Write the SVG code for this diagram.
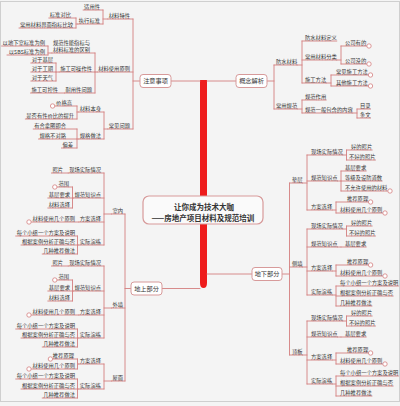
<svg xmlns="http://www.w3.org/2000/svg" width="400" height="406" viewBox="0 0 400 406">
<style>
.t{font-family:"Noto Sans CJK SC","Noto Sans",sans-serif;font-size:5.3px;fill:#333}
.e{text-anchor:end}
.u,.c{stroke:#d47f7f;stroke-width:.9;fill:none;stroke-linecap:round}
.m{fill:#fff;stroke:#d47f7f;stroke-width:.8}
.b{fill:#fff;stroke:#d79a9a;stroke-width:1}
.bt{font-size:6.2px;text-anchor:middle}
.ct{font-family:"Noto Sans CJK SC","Noto Sans",sans-serif;font-size:7.5px;font-weight:bold;fill:#333;text-anchor:middle}
</style>
<rect width="400" height="406" fill="#f4f4f4"/>
<rect x="0.5" y="1.5" width="399" height="400" fill="none" stroke="#cfcfcf"/>
<g id="connectors">
<path d="M200,80H207V283Q207,288 203.5,288Q200,288 200,283Z" fill="#ee1c1c"/>
<path class="c" d="M171,81H200M207,81H236M162,288.5H200M207,274H252"/>
<path class="c" d="M140,81H133M133,19V129M107.8,19H103M103,10V24M77.8,24H76M76,18V28M97.2,72H95M95,53V93M51.9,53H48M48,46V55M59.2,72H56M56,63V81M107.8,129H104M104,112V139M78.8,112H77M77,106V119M78.8,139H77M77,129V148"/>
<path class="c" d="M267,81H274M274,65V109M297.2,65H302M302,41V83M336.8,60H341M341,46V64M326.2,83H331M331,75V86M297.2,109H302M302,100V113M352.7,113H357M357,109V118"/>
<path class="c" d="M282,274H289.5M289.5,183V355M302.6,183H307M307,155V210M302.6,267H307M307,229V295M302.6,355H307M307,321V384"/>
<path class="c" d="M342.8,155H346.5M346.5,150V160M337.5,181H341M341,171V191M332.2,210H336M336,202V213"/>
<path class="c" d="M342.8,229H346.5M346.5,226V236M337.5,247H341M332.2,271H336M336,265V276M332.2,295H336M336,286V306"/>
<path class="c" d="M342.8,321H346.5M346.5,316V326M337.5,337H341M332.2,360H336M336,353V364M332.2,384H336M336,376V396"/>
<path class="c" d="M131,288.5H125M125,214V381M111.4,214H104M104,173V245M111.4,308H104M104,266V338M111.4,381H104M104,364V389"/>
<path class="c" d="M73.5,198H72.5M72.5,187V208M77.5,236V254M78.8,245H77.5M73.5,291H72.5M72.5,280V301M77.5,329V347M78.8,338H77.5M78.8,364H77.5M77.5,359V369M78.8,389H77.5M77.5,379V398"/>
</g>
<g id="center"><rect x="143" y="196" width="120" height="28" rx="6" fill="#fafafa" stroke="#d79a9a" stroke-width="1.2"/><text class="ct" x="204" y="209.5">让你成为技术大咖</text><text class="ct" x="203" y="220.5">——房地产项目材料及规范培训</text></g>

<g id="zhuyishixiang"><rect class="b" x="140" y="74.5" width="31" height="13" rx="3"/><text class="t bt" x="155.5" y="83.2">注意事项</text></g>
<g id="cailiaotexing"><text class="t e" x="130" y="17.5">材料特性</text><path class="u" d="M107.8,19H133"/></g>
<g id="shiyongxing"><text class="t e" x="100" y="8.5">适用性</text><path class="u" d="M83.1,10H103"/></g>
<g id="zhixingbiaozhun"><text class="t e" x="100" y="22.5">执行标准</text><path class="u" d="M77.8,24H103"/></g>
<g id="biaozhunduibi"><text class="t e" x="71" y="16.5">标准对比</text><path class="u" d="M48.8,18H76"/></g>
<g id="changyongcailiao"><text class="t e" x="73" y="26.5">常用材料界面指标比较</text><path class="u" d="M19,28H76"/></g>
<g id="cailiaoshiyong"><text class="t e" x="130" y="70.5">材料使用原则</text><path class="u" d="M97.2,72H133"/></g>
<g id="guifanxingneng"><text class="t e" x="90" y="44.5">规范性能指标与</text><text class="t e" x="90" y="51.5">材料标准的区别</text><path class="u" d="M51.9,53H95"/></g>
<g id="dixiashi"><text class="t e" x="45" y="44.5">以地下室标准为例</text><path class="u" d="M1.6,46H48"/></g>
<g id="sbs"><text class="t e" x="45" y="53.5">以SBS标准为例</text><path class="u" d="M7,55H48"/></g>
<g id="shigongkecaozuo"><text class="t e" x="92" y="70.5">施工可操作性</text><path class="u" d="M59.2,72H95"/></g>
<g id="jiceng1"><text class="t e" x="53" y="61.5">对于基层</text><path class="u" d="M30.8,63H56"/></g>
<g id="gongqi"><text class="t e" x="53" y="70.5">对于工期</text><path class="u" d="M30.8,72H56"/></g>
<g id="tianqi"><text class="t e" x="53" y="79.5">对于天气</text><path class="u" d="M30.8,81H56"/></g>
<g id="naiyong"><text class="t e" x="92" y="91.5">耐用性问题</text><path class="u" d="M64.5,93H95"/></g>
<g id="kekong"><text class="t e" x="58" y="91.5">施工可控性</text><path class="u" d="M30.5,93H64.5"/></g>
<g id="changjianwenti"><text class="t e" x="130" y="127.5">常见问题</text><path class="u" d="M107.8,129H133"/></g>
<g id="cailiaobenshen"><text class="t e" x="101" y="110.5">材料本身</text><path class="u" d="M78.8,112H104"/></g>
<g id="jiagegao"><text class="t e" x="72" y="104.5">价格高</text><path class="u" d="M55.1,106H77"/><circle class="m" cx="52.6" cy="106" r="2.2"/></g>
<g id="xingjiabi"><text class="t e" x="74" y="117.5">是否有性价比的提升</text><path class="u" d="M25.3,119H77"/></g>
<g id="guigewenti"><text class="t e" x="101" y="137.5">规格做法</text><path class="u" d="M78.8,139H104"/></g>
<g id="natu"><text class="t e" x="66" y="127.5">有合拿图即合</text><path class="u" d="M33.2,129H77"/></g>
<g id="buduilu"><text class="t e" x="66" y="137.5">规格不对路</text><path class="u" d="M38.5,139H77"/></g>
<g id="piancha"><text class="t e" x="73" y="146.5">偏差</text><path class="u" d="M61.4,148H77"/></g>

<g id="gainianjiexi"><rect class="b" x="236" y="74.5" width="31" height="13" rx="3"/><text class="t bt" x="251.5" y="83.2">概念解析</text></g>
<g id="fangshuicailiao"><text class="t" x="276" y="63.5">防水材料</text><path class="u" d="M274,65H297.2"/></g>
<g id="dingyi"><text class="t" x="305" y="39.5">防水材料定义</text><path class="u" d="M302,41H336.8"/></g>
<g id="fenlei"><text class="t" x="305" y="58.5">常用材料分类</text><path class="u" d="M302,60H336.8"/></g>
<g id="gongsiyou"><text class="t" x="345" y="44.5">公司有的</text><path class="u" d="M341,46H366.8"/><circle class="m" cx="369" cy="46" r="2.2"/></g>
<g id="gongsimei"><text class="t" x="345" y="62.5">公司没的</text><path class="u" d="M341,64H366.8"/><circle class="m" cx="369" cy="64" r="2.2"/></g>
<g id="shigongfangfa"><text class="t" x="305" y="81.5">施工方法</text><path class="u" d="M302,83H326.2"/></g>
<g id="changjianfangfa"><text class="t" x="336" y="73.5">常见施工方法</text><path class="u" d="M331,75H368.3"/><circle class="m" cx="370.5" cy="75" r="2.2"/></g>
<g id="qitafangfa"><text class="t" x="336" y="84.5">其他施工方法</text><path class="u" d="M331,86H368.3"/><circle class="m" cx="370.5" cy="86" r="2.2"/></g>
<g id="changyongguifan"><text class="t" x="276" y="107.5">常用规范</text><path class="u" d="M274,109H297.2"/></g>
<g id="guifanzuoyong"><text class="t" x="305" y="98.5">规范作用</text><path class="u" d="M302,100H326.2"/></g>
<g id="baohan"><text class="t" x="305" y="111.5">规范一般包含的内容</text><path class="u" d="M302,113H352.7"/></g>
<g id="mulu"><text class="t" x="360" y="107.5">目录</text><path class="u" d="M357,109H370.6"/></g>
<g id="tiaowen"><text class="t" x="360" y="116.5">条文</text><path class="u" d="M357,118H370.6"/></g>

<g id="dixiabufen"><rect class="b" x="252" y="267.5" width="30" height="13" rx="3"/><text class="t bt" x="267" y="276.2">地下部分</text></g>
<g id="dianceng"><text class="t" x="292" y="181.5">垫层</text><path class="u" d="M289.5,183H302.6"/></g>
<g id="dc-xianchang"><text class="t" x="311" y="153.5">现场实际情况</text><path class="u" d="M307,155H342.8"/></g>
<g id="dc-hao"><text class="t" x="351" y="148.5">好的照片</text><path class="u" d="M346.5,150H372.2"/></g>
<g id="dc-buhao"><text class="t" x="349" y="158.5">不好的照片</text><path class="u" d="M346.5,160H375.5"/></g>
<g id="dc-guifan"><text class="t" x="311" y="179.5">规范知识点</text><path class="u" d="M307,181H337.5"/></g>
<g id="dc-jiceng"><text class="t" x="345" y="169.5">基层要求</text><path class="u" d="M341,171H366.2"/></g>
<g id="dc-dengji"><text class="t" x="345" y="179.5">等级及设防道数</text><path class="u" d="M341,181H382.1"/></g>
<g id="dc-buyunxu"><text class="t" x="345" y="189.5">不允许使用的材料</text><path class="u" d="M341,191H387.4"/><circle class="m" cx="390" cy="191" r="2.2"/></g>
<g id="dc-fangan"><text class="t" x="311" y="208.5">方案选择</text><path class="u" d="M307,210H332.2"/></g>
<g id="dc-tuijian"><text class="t" x="347" y="200.5">推荐原理</text><path class="u" d="M336,202H368.2"/><circle class="m" cx="370.6" cy="202" r="2.2"/></g>
<g id="dc-yuanze"><text class="t" x="340" y="211.5">材料使用几个原则</text><path class="u" d="M336,213H382.4"/><circle class="m" cx="385" cy="213" r="2.2"/></g>

<g id="ceqiang"><text class="t" x="292" y="265.5">侧墙</text><path class="u" d="M289.5,267H302.6"/></g>
<g id="cq-xianchang"><text class="t" x="311" y="227.5">现场实际情况</text><path class="u" d="M307,229H342.8"/></g>
<g id="cq-hao"><text class="t" x="351" y="224.5">好的照片</text><path class="u" d="M346.5,226H372.2"/></g>
<g id="cq-buhao"><text class="t" x="349" y="234.5">不好的照片</text><path class="u" d="M346.5,236H375.5"/></g>
<g id="cq-guifan"><text class="t" x="311" y="245.5">规范知识点</text><path class="u" d="M307,247H337.5"/></g>
<g id="cq-jiceng"><text class="t" x="345" y="245.5">基层要求</text><path class="u" d="M341,247H366.2"/></g>
<g id="cq-fangan"><text class="t" x="311" y="269.5">方案选择</text><path class="u" d="M307,271H332.2"/></g>
<g id="cq-tuijian"><text class="t" x="347" y="263.5">推荐原理</text><path class="u" d="M336,265H368.2"/><circle class="m" cx="370.6" cy="265" r="2.2"/></g>
<g id="cq-yuanze"><text class="t" x="340" y="274.5">材料使用几个原则</text><path class="u" d="M336,276H382.4"/><circle class="m" cx="385" cy="276" r="2.2"/></g>
<g id="cq-yanlian"><text class="t" x="311" y="293.5">实际演练</text><path class="u" d="M307,295H332.2"/></g>
<g id="cq-meige"><text class="t" x="340" y="284.5">每个小组一个方案及说明</text><path class="u" d="M336,286H398.5"/></g>
<g id="cq-genju"><text class="t" x="340" y="294.5">根据案例分析正确与否</text><path class="u" d="M336,296H393.2"/></g>
<g id="cq-jizhong"><text class="t" x="340" y="304.5">几种推荐做法</text><path class="u" d="M336,306H372"/></g>

<g id="dingban"><text class="t" x="292" y="353.5">顶板</text><path class="u" d="M289.5,355H302.6"/></g>
<g id="db-xianchang"><text class="t" x="311" y="319.5">现场实际情况</text><path class="u" d="M307,321H342.8"/></g>
<g id="db-hao"><text class="t" x="351" y="314.5">好的照片</text><path class="u" d="M346.5,316H372.2"/></g>
<g id="db-buhao"><text class="t" x="349" y="324.5">不好的照片</text><path class="u" d="M346.5,326H375.5"/></g>
<g id="db-guifan"><text class="t" x="311" y="335.5">规范知识点</text><path class="u" d="M307,337H337.5"/></g>
<g id="db-jiceng"><text class="t" x="345" y="335.5">基层要求</text><path class="u" d="M341,337H366.2"/></g>
<g id="db-fangan"><text class="t" x="311" y="358.5">方案选择</text><path class="u" d="M307,360H332.2"/></g>
<g id="db-tuijian"><text class="t" x="347" y="351.5">推荐原理</text><path class="u" d="M336,353H368.2"/><circle class="m" cx="370.6" cy="353" r="2.2"/></g>
<g id="db-yuanze"><text class="t" x="340" y="362.5">材料使用几个原则</text><path class="u" d="M336,364H382.4"/><circle class="m" cx="385" cy="364" r="2.2"/></g>
<g id="db-yanlian"><text class="t" x="311" y="382.5">实际演练</text><path class="u" d="M307,384H332.2"/></g>
<g id="db-meige"><text class="t" x="340" y="374.5">每个小组一个方案及说明</text><path class="u" d="M336,376H398.5"/></g>
<g id="db-genju"><text class="t" x="340" y="384.5">根据案例分析正确与否</text><path class="u" d="M336,386H393.2"/></g>
<g id="db-jizhong"><text class="t" x="340" y="394.5">几种推荐做法</text><path class="u" d="M336,396H372"/></g>

<g id="dishangbufen"><rect class="b" x="131" y="282" width="31" height="13" rx="3"/><text class="t bt" x="146.5" y="290.7">地上部分</text></g>
<g id="shinei"><text class="t e" x="123" y="212.5">室内</text><path class="u" d="M111.4,214H125"/></g>
<g id="sn-xianchang"><text class="t e" x="101" y="171.5">现场实际情况</text><path class="u" d="M68.2,173H104"/></g>
<g id="sn-zhaopian"><text class="t e" x="63" y="171.5">照片</text><path class="u" d="M51.4,173H68.2"/></g>
<g id="sn-guifan"><text class="t e" x="101" y="196.5">规范知识点</text><path class="u" d="M73.5,198H104"/></g>
<g id="sn-fanwei"><text class="t e" x="69" y="185.5">范围</text><path class="u" d="M57.4,187H72.5"/><circle class="m" cx="54.8" cy="187" r="2.2"/></g>
<g id="sn-jiceng"><text class="t e" x="70" y="196.5">基层要求</text><path class="u" d="M47.8,198H72.5"/></g>
<g id="sn-xuanze"><text class="t e" x="70" y="206.5">材料选择</text><path class="u" d="M47.8,208H72.5"/></g>
<g id="sn-fangan"><text class="t e" x="101" y="220.5">方案选择</text><path class="u" d="M78.8,222H104"/></g>
<g id="sn-yuanze"><text class="t e" x="75" y="220.5">材料使用几个原则</text><path class="u" d="M31.6,222H78.8"/><circle class="m" cx="29" cy="222" r="2.2"/></g>
<g id="sn-yanlian"><text class="t e" x="101" y="243.5">实际演练</text><path class="u" d="M78.8,245H104"/></g>
<g id="sn-meige"><text class="t e" x="75" y="234.5">每个小组一个方案及说明</text><path class="u" d="M15.7,236H77.5"/></g>
<g id="sn-genju"><text class="t e" x="75" y="243.5">根据案例分析正确与否</text><path class="u" d="M21,245H77.5"/></g>
<g id="sn-jizhong"><text class="t e" x="75" y="252.5">几种推荐做法</text><path class="u" d="M42.2,254H77.5"/></g>

<g id="waiqiang"><text class="t e" x="123" y="306.5">外墙</text><path class="u" d="M111.4,308H125"/></g>
<g id="wq-xianchang"><text class="t e" x="101" y="264.5">现场实际情况</text><path class="u" d="M68.2,266H104"/></g>
<g id="wq-zhaopian"><text class="t e" x="63" y="264.5">照片</text><path class="u" d="M51.4,266H68.2"/></g>
<g id="wq-guifan"><text class="t e" x="101" y="289.5">规范知识点</text><path class="u" d="M73.5,291H104"/></g>
<g id="wq-fanwei"><text class="t e" x="69" y="278.5">范围</text><path class="u" d="M57.4,280H72.5"/><circle class="m" cx="54.8" cy="280" r="2.2"/></g>
<g id="wq-jiceng"><text class="t e" x="70" y="289.5">基层要求</text><path class="u" d="M47.8,291H72.5"/></g>
<g id="wq-xuanze"><text class="t e" x="70" y="299.5">材料选择</text><path class="u" d="M47.8,301H72.5"/></g>
<g id="wq-fangan"><text class="t e" x="101" y="313.5">方案选择</text><path class="u" d="M78.8,315H104"/></g>
<g id="wq-yuanze"><text class="t e" x="75" y="313.5">材料使用几个原则</text><path class="u" d="M31.6,315H78.8"/><circle class="m" cx="29" cy="315" r="2.2"/></g>
<g id="wq-yanlian"><text class="t e" x="101" y="336.5">实际演练</text><path class="u" d="M78.8,338H104"/></g>
<g id="wq-meige"><text class="t e" x="75" y="327.5">每个小组一个方案及说明</text><path class="u" d="M15.7,329H77.5"/></g>
<g id="wq-genju"><text class="t e" x="75" y="336.5">根据案例分析正确与否</text><path class="u" d="M21,338H77.5"/></g>
<g id="wq-jizhong"><text class="t e" x="75" y="345.5">几种推荐做法</text><path class="u" d="M42.2,347H77.5"/></g>

<g id="wumian"><text class="t e" x="123" y="379.5">屋面</text><path class="u" d="M111.4,381H125"/></g>
<g id="wm-fangan"><text class="t e" x="101" y="362.5">方案选择</text><path class="u" d="M78.8,364H104"/></g>
<g id="wm-tuijian"><text class="t e" x="74" y="357.5">推荐原理</text><path class="u" d="M52.8,359H77.5"/><circle class="m" cx="50.4" cy="359" r="2.2"/></g>
<g id="wm-yuanze"><text class="t e" x="75" y="367.5">材料使用几个原则</text><path class="u" d="M31.6,369H77.5"/><circle class="m" cx="29" cy="369" r="2.2"/></g>
<g id="wm-yanlian"><text class="t e" x="101" y="387.5">实际演练</text><path class="u" d="M78.8,389H104"/></g>
<g id="wm-meige"><text class="t e" x="75" y="377.5">每个小组一个方案及说明</text><path class="u" d="M15.7,379H77.5"/></g>
<g id="wm-genju"><text class="t e" x="75" y="387.5">根据案例分析正确与否</text><path class="u" d="M21,389H77.5"/></g>
<g id="wm-jizhong"><text class="t e" x="75" y="396.5">几种推荐做法</text><path class="u" d="M42.2,398H77.5"/></g>
</svg>
